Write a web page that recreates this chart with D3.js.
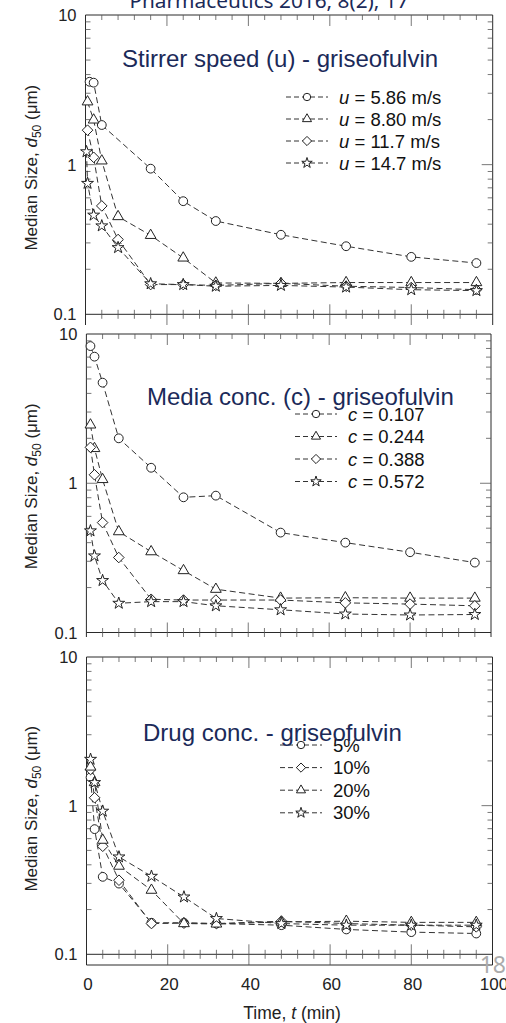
<!DOCTYPE html>
<html><head><meta charset="utf-8">
<script src="https://cdn.jsdelivr.net/npm/d3@7"></script>
<style>body{margin:0;background:#fff}svg{display:block}</style>
</head><body>
<svg id="c" width="506" height="1023"></svg>
<script>
// ---------- DATA ----------
const times = [0.25, 0.5, 1, 2, 4, 8, 16, 24, 32, 48, 64, 80, 96];
const xTicks = [0, 20, 40, 60, 80, 100];
const yTicks = [0.1, 1, 10];
const yTickLabels = ["0.1", "1", "10"];

// Panel 1: stirrer speed
const stirrerTitle = "Stirrer speed (u) - griseofulvin";
const stirrerVar = "u";
const stirrerNames = ["= 5.86 m/s", "= 8.80 m/s", "= 11.7 m/s", "= 14.7 m/s"];
const u586 = [null, null, 3.58, 3.53, 1.84, null, 0.94, 0.57, 0.42, 0.34, 0.285, 0.242, 0.22];
const u880 = [null, 2.63, null, 1.99, 1.06, 0.45, 0.337, 0.238, 0.162, 0.161, 0.163, 0.163, 0.163];
const u117 = [null, 1.70, null, 1.12, 0.53, 0.316, 0.158, 0.158, 0.156, 0.161, 0.154, 0.151, 0.146];
const u147 = [1.22, 0.75, null, 0.46, 0.39, 0.279, 0.160, 0.158, 0.154, 0.156, 0.152, 0.146, 0.144];

// Panel 2: media concentration
const mediaTitle = "Media conc. (c) - griseofulvin";
const mediaVar = "c";
const mediaNames = ["= 0.107", "= 0.244", "= 0.388", "= 0.572"];
const c107 = [null, null, 8.3, 7.05, 4.72, 2.0, 1.27, 0.805, 0.826, 0.467, 0.40, 0.345, 0.294];
const c244 = [null, null, 2.46, 1.71, 1.06, 0.474, 0.348, 0.26, 0.195, 0.170, 0.171, 0.170, 0.170];
const c388 = [null, null, 1.74, 1.14, 0.545, 0.318, 0.167, 0.165, 0.165, 0.165, 0.158, 0.155, 0.151];
const c572 = [null, null, 0.48, 0.326, 0.223, 0.157, 0.161, 0.161, 0.151, 0.142, 0.133, 0.131, 0.132];

// Panel 3: drug concentration
const drugTitle = "Drug conc. - griseofulvin";
const drugNames = ["5%", "10%", "20%", "30%"];
const d5  = [null, null, 1.55, 0.695, 0.332, 0.299, 0.163, 0.163, 0.161, 0.157, 0.147, 0.141, 0.138];
const d10 = [null, null, 1.75, 1.13, 0.533, 0.315, 0.161, 0.162, 0.161, 0.167, 0.161, 0.157, 0.153];
const d20 = [null, null, 1.82, 1.43, 0.586, 0.392, 0.27, 0.161, 0.160, 0.165, 0.167, 0.164, 0.164];
const d30 = [null, null, 2.05, 1.43, 0.918, 0.452, 0.335, 0.243, 0.174, 0.161, 0.157, 0.157, 0.157];

const headerText = "Pharmaceutics 2016, 8(2), 17";
const pageNumber = "18";
const xLabel = ["Time, ", "t", " (min)"];

// ---------- DRAW ----------
const svg = d3.select("#c");
const FONT = "'Liberation Sans', Arial, sans-serif";
const NAVY = "#1b2a59";

const shapes = {
  circle: "M4.4,0A4.4,4.4 0 1,1 -4.4,0A4.4,4.4 0 1,1 4.4,0Z",
  triangle: d3.symbol(d3.symbolTriangle, 50)(),
  diamond: "M0,-5.3L5.3,0L0,5.3L-5.3,0Z",
  star: d3.symbol(d3.symbolStar, 44)()
};
const shapesSmall = {
  circle: "M3.7,0A3.7,3.7 0 1,1 -3.7,0A3.7,3.7 0 1,1 3.7,0Z",
  triangle: d3.symbol(d3.symbolTriangle, 36)(),
  diamond: "M0,-4.6L4.6,0L0,4.6L-4.6,0Z",
  star: d3.symbol(d3.symbolStar, 34)()
};

function drawPanel(cfg) {
  const x = d3.scaleLinear().domain([0, 100]).range([cfg.left, cfg.right]);
  const y = d3.scaleLog().domain([0.1, 10]).range([cfg.yb, cfg.yt]);
  const g = svg.append("g");
  const fc = "#2a2a2a", tc = "#555";

  // frame
  g.append("line").attr("x1", cfg.left).attr("x2", cfg.left).attr("y1", cfg.yt).attr("y2", cfg.fb).attr("stroke", fc);
  g.append("line").attr("x1", cfg.right).attr("x2", cfg.right).attr("y1", cfg.yt).attr("y2", cfg.fb).attr("stroke", fc);
  g.append("line").attr("x1", cfg.left).attr("x2", cfg.right).attr("y1", cfg.yt).attr("y2", cfg.yt).attr("stroke", fc);
  if (cfg.bottomLine) g.append("line").attr("x1", cfg.left).attr("x2", cfg.right).attr("y1", cfg.fb).attr("y2", cfg.fb).attr("stroke", fc);
  // 0.1 line
  g.append("line").attr("x1", cfg.left).attr("x2", cfg.right).attr("y1", y(0.1)).attr("y2", y(0.1)).attr("stroke", fc);

  // x ticks
  const xMinor = d3.range(0, 101, 4).filter(v => v % 20 !== 0);
  const xMajor = xTicks.filter(v => v > 0 && v < 100);
  xMinor.forEach(v => {
    g.append("line").attr("x1", x(v)).attr("x2", x(v)).attr("y1", cfg.yt).attr("y2", cfg.yt + 5).attr("stroke", tc).attr("stroke-width", 0.8);
    g.append("line").attr("x1", x(v)).attr("x2", x(v)).attr("y1", y(0.1) - 4.5).attr("y2", y(0.1) + 4.5).attr("stroke", tc).attr("stroke-width", 0.8);
  });
  xMajor.forEach(v => {
    g.append("line").attr("x1", x(v)).attr("x2", x(v)).attr("y1", cfg.yt).attr("y2", cfg.yt + 11).attr("stroke", tc).attr("stroke-width", 0.8);
    g.append("line").attr("x1", x(v)).attr("x2", x(v)).attr("y1", y(0.1) - 10).attr("y2", cfg.fb).attr("stroke", tc).attr("stroke-width", 0.8);
  });

  // y ticks
  const yMinor = [];
  [0.1, 1].forEach(d => { for (let k = 2; k <= 9; k++) yMinor.push(d * k); });
  yMinor.forEach(v => {
    g.append("line").attr("x1", cfg.left).attr("x2", cfg.left + 5).attr("y1", y(v)).attr("y2", y(v)).attr("stroke", tc).attr("stroke-width", 0.8);
    g.append("line").attr("x1", cfg.right - 5).attr("x2", cfg.right).attr("y1", y(v)).attr("y2", y(v)).attr("stroke", tc).attr("stroke-width", 0.8);
  });
  [1].forEach(v => {
    g.append("line").attr("x1", cfg.left).attr("x2", cfg.left + 11).attr("y1", y(v)).attr("y2", y(v)).attr("stroke", tc).attr("stroke-width", 0.8);
    g.append("line").attr("x1", cfg.right - 11).attr("x2", cfg.right).attr("y1", y(v)).attr("y2", y(v)).attr("stroke", tc).attr("stroke-width", 0.8);
  });
  yTicks.forEach((v, i) => {
    g.append("text").attr("x", cfg.left - 9).attr("y", y(v) + 6).attr("text-anchor", "end")
      .attr("font-family", FONT).attr("font-size", 16.5).attr("fill", "#222").text(yTickLabels[i]);
  });

  // y label
  const yl = g.append("text").attr("transform", `translate(${cfg.ylx},${(cfg.yt + cfg.yb) / 2 + 3}) rotate(-90)`)
    .attr("text-anchor", "middle").attr("font-family", FONT).attr("font-size", 17).attr("fill", "#222");
  yl.append("tspan").text("Median Size, ");
  yl.append("tspan").attr("font-style", "italic").text("d");
  yl.append("tspan").attr("font-size", 12).attr("dy", 4).text("50");
  yl.append("tspan").attr("dy", -4).text(" (\u03bcm)");

  // series
  const line = d3.line().x(d => x(d.t)).y(d => y(d.v));
  cfg.series.forEach((s) => {
    const pts = times.map((t, i) => ({ t, v: s.values[i] })).filter(d => d.v != null);
    g.append("path").attr("d", line(pts)).attr("fill", "none").attr("stroke", "#333").attr("stroke-width", 1)
      .attr("stroke-dasharray", "6,3.5");
  });
  cfg.series.forEach((s) => {
    const pts = times.map((t, i) => ({ t, v: s.values[i] })).filter(d => d.v != null);
    g.selectAll(null).data(pts).enter().append("path")
      .attr("d", shapes[s.shape]).attr("transform", d => `translate(${x(d.t)},${y(d.v)})`)
      .attr("fill", "#fff").attr("stroke", "#222").attr("stroke-width", 1);
  });

  // legend
  cfg.series.forEach((s, i) => {
    const ly = cfg.legY + i * cfg.legDy;
    g.append("line").attr("x1", cfg.legX).attr("x2", cfg.legX + 42).attr("y1", ly).attr("y2", ly)
      .attr("stroke", "#333").attr("stroke-dasharray", "5,3");
    g.append("path").attr("d", shapesSmall[s.shape]).attr("transform", `translate(${cfg.legX + 21},${ly})`)
      .attr("fill", "#fff").attr("stroke", "#222");
    const t = g.append("text").attr("x", cfg.legX + 53).attr("y", ly + 6.5).attr("font-family", FONT)
      .attr("font-size", 18.5).attr("fill", "#111");
    if (cfg.legVar) { t.append("tspan").attr("font-style", "italic").text(cfg.legVar + " "); }
    t.append("tspan").text(s.name);
  });

  // title
  g.append("text").attr("x", cfg.titleX).attr("y", cfg.titleY).attr("font-family", FONT)
    .attr("font-size", 24).attr("fill", NAVY).text(cfg.title);

  return { x, y };
}

// header
svg.append("text").attr("x", 269).attr("y", 8).attr("text-anchor", "middle")
  .attr("font-family", "'Noto Sans', sans-serif").attr("font-size", 20.8).attr("fill", NAVY).text(headerText);

drawPanel({
  left: 85.5, right: 492.7, yt: 15, yb: 314.3, fb: 325, ylx: 37,
  title: stirrerTitle, titleX: 122, titleY: 67,
  legVar: stirrerVar, legX: 286, legY: 97, legDy: 22,
  series: [
    { values: u586, shape: "circle", name: stirrerNames[0] },
    { values: u880, shape: "triangle", name: stirrerNames[1] },
    { values: u117, shape: "diamond", name: stirrerNames[2] },
    { values: u147, shape: "star", name: stirrerNames[3] }
  ]
});

drawPanel({
  left: 86.4, right: 491, yt: 334, yb: 632.5, fb: 637, ylx: 37,
  title: mediaTitle, titleX: 147, titleY: 405,
  legVar: mediaVar, legX: 295, legY: 414, legDy: 22.5,
  series: [
    { values: c107, shape: "circle", name: mediaNames[0] },
    { values: c244, shape: "triangle", name: mediaNames[1] },
    { values: c388, shape: "diamond", name: mediaNames[2] },
    { values: c572, shape: "star", name: mediaNames[3] }
  ]
});

const p3 = drawPanel({
  left: 86.5, right: 492.5, yt: 657, yb: 954.3, fb: 965, ylx: 37, bottomLine: true,
  title: drugTitle, titleX: 143, titleY: 741,
  legVar: null, legX: 280, legY: 745, legDy: 22.6,
  series: [
    { values: d5, shape: "circle", name: drugNames[0] },
    { values: d10, shape: "diamond", name: drugNames[1] },
    { values: d20, shape: "triangle", name: drugNames[2] },
    { values: d30, shape: "star", name: drugNames[3] }
  ]
});

// x tick labels & label for bottom panel
xTicks.forEach(v => {
  svg.append("text").attr("x", p3.x(v) + 1.5).attr("y", 990).attr("text-anchor", "middle")
    .attr("font-family", FONT).attr("font-size", 17).attr("fill", "#222").text(v);
});
const xl = svg.append("text").attr("x", 292).attr("y", 1019).attr("text-anchor", "middle")
  .attr("font-family", FONT).attr("font-size", 17.5).attr("fill", "#222");
xl.append("tspan").text(xLabel[0]);
xl.append("tspan").attr("font-style", "italic").text(xLabel[1]);
xl.append("tspan").text(xLabel[2]);

// page number
svg.append("text").attr("x", 506).attr("y", 973).attr("text-anchor", "end")
  .attr("font-family", "'Noto Sans', sans-serif").attr("font-size", 23).attr("fill", "#ababab").text(pageNumber);
</script>
</body></html>
